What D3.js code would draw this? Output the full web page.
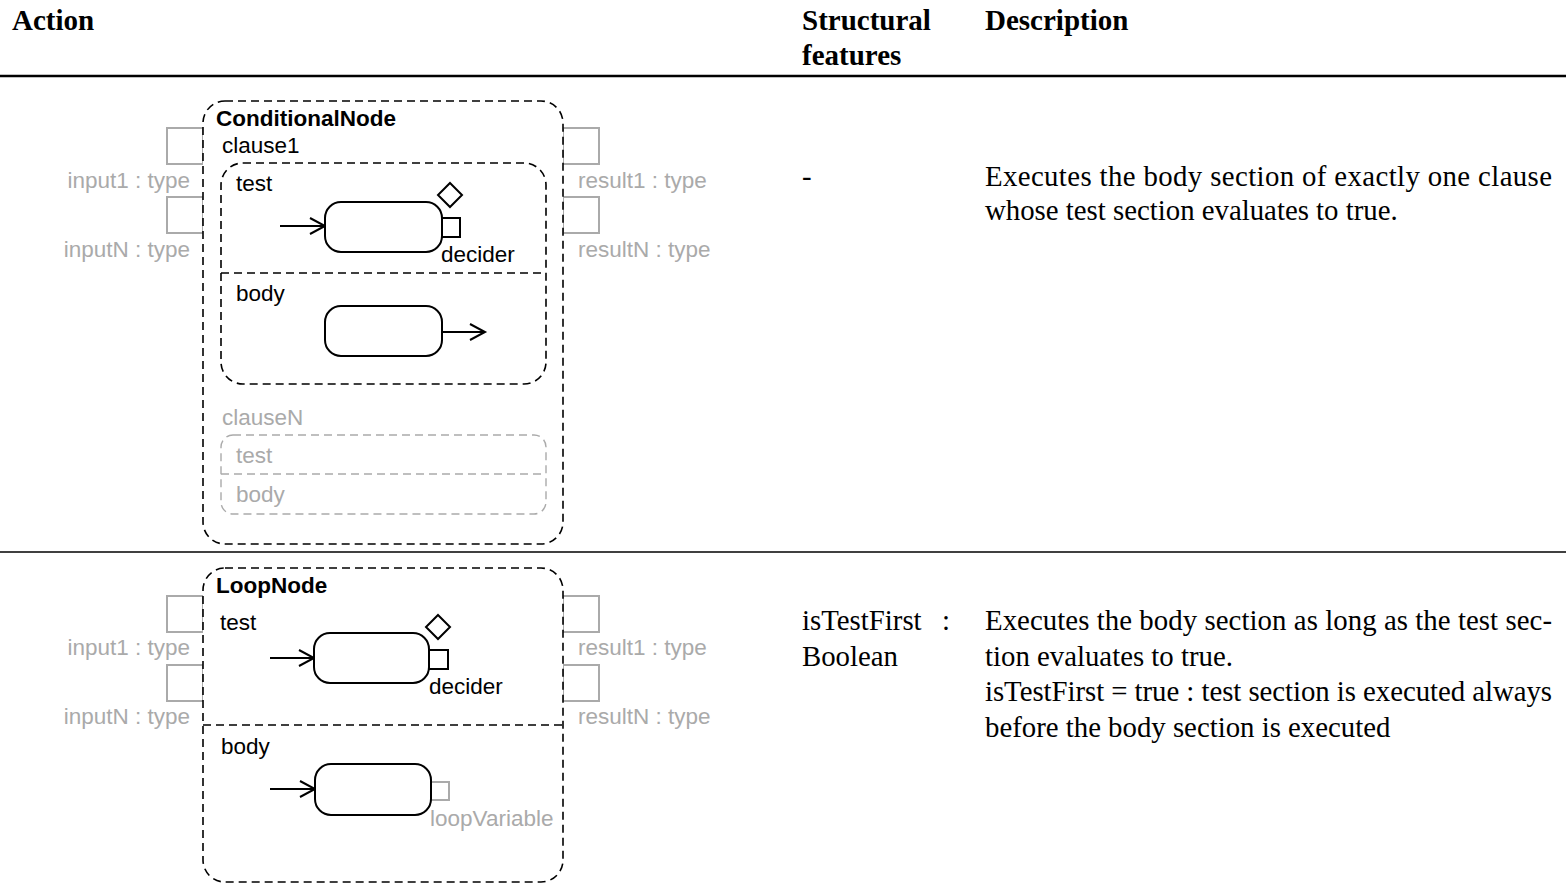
<!DOCTYPE html>
<html><head><meta charset="utf-8">
<script src="https://cdn.jsdelivr.net/npm/d3@7"></script>
<style>body{margin:0;background:#fff}svg{display:block}</style>
</head><body>
<script>
// ---- data ----
const headers = ["Action", "Structural", "features", "Description"];
const nodeNames = ["ConditionalNode", "LoopNode"];
const inputPins = ["input1 : type", "inputN : type"];
const outputPins = ["result1 : type", "resultN : type"];
const clauseLabels = ["clause1", "clauseN"];
const sectionLabels = ["test", "body"];
const pinLabels = ["decider", "loopVariable"];
const featureNames = [["-"], ["isTestFirst", "Boolean"]];
const descriptions = [
  ["Executes the body section of exactly one clause", "whose test section evaluates to true."],
  ["Executes the body section as long as the test sec-", "tion evaluates to true.",
   "isTestFirst = true : test section is executed always", "before the body section is executed"]
];
const justified = [[true, false], [true, false, true, false]];

const W = 1566, H = 891;
const GREY = "#aaaaaa";
const SANS = "'Liberation Sans', Arial, sans-serif";
const SERIF = "'Liberation Serif', 'Times New Roman', serif";
const SANS_SIZE = 22.5, SERIF_SIZE = 28.8;

const svg = d3.select("body").append("svg").attr("width", W).attr("height", H);

// column scale
const col = d3.scaleOrdinal().domain(["action", "features", "desc"]).range([12, 802, 985]);
const descRight = 1552;

// header
const hdr = svg.append("g").attr("font-family", SERIF).attr("font-weight", "bold").attr("font-size", 29);
hdr.append("text").attr("x", col("action")).attr("y", 30).text(headers[0]);
hdr.append("text").attr("x", col("features")).attr("y", 30).text(headers[1]);
hdr.append("text").attr("x", col("features")).attr("y", 65).text(headers[2]);
hdr.append("text").attr("x", col("desc")).attr("y", 30).text(headers[3]);
svg.append("line").attr("x1", 0).attr("x2", W).attr("y1", 76).attr("y2", 76).attr("stroke", "#000").attr("stroke-width", 2.5);
svg.append("line").attr("x1", 0).attr("x2", W).attr("y1", 552).attr("y2", 552).attr("stroke", "#000").attr("stroke-width", 1.5);

// helpers
function dashedBox(g, x, y, w, h, r, color, sw) {
  g.append("rect").attr("x", x).attr("y", y).attr("width", w).attr("height", h).attr("rx", r).attr("ry", r)
    .attr("fill", "none").attr("stroke", color).attr("stroke-width", sw).attr("stroke-dasharray", "8,5");
}
function dashedLine(g, x1, x2, y, color, sw) {
  g.append("line").attr("x1", x1).attr("x2", x2).attr("y1", y).attr("y2", y)
    .attr("stroke", color).attr("stroke-width", sw).attr("stroke-dasharray", "8,5");
}
function label(g, x, y, t, opts = {}) {
  return g.append("text").attr("x", x).attr("y", y).attr("font-family", SANS).attr("font-size", SANS_SIZE)
    .attr("fill", opts.color || "#000").attr("font-weight", opts.bold ? "bold" : "normal")
    .attr("text-anchor", opts.anchor || "start").text(t);
}
function action(g, x, y, w, h) {
  g.append("rect").attr("x", x).attr("y", y).attr("width", w).attr("height", h).attr("rx", 16).attr("ry", 16)
    .attr("fill", "#fff").attr("stroke", "#000").attr("stroke-width", 2);
}
function arrow(g, x1, x2, y) {
  g.append("line").attr("x1", x1).attr("x2", x2).attr("y1", y).attr("y2", y).attr("stroke", "#000").attr("stroke-width", 2);
  g.append("polyline").attr("points", `${x2 - 15},${y - 8} ${x2},${y} ${x2 - 15},${y + 8}`)
    .attr("fill", "none").attr("stroke", "#000").attr("stroke-width", 2);
}
function diamond(g, cx, cy, r) {
  g.append("polygon").attr("points", `${cx},${cy - r} ${cx + r},${cy} ${cx},${cy + r} ${cx - r},${cy}`)
    .attr("fill", "#fff").attr("stroke", "#000").attr("stroke-width", 2);
}
function pin(g, x, y, s, color, sw) {
  g.append("rect").attr("x", x).attr("y", y).attr("width", s).attr("height", s)
    .attr("fill", "#fff").attr("stroke", color).attr("stroke-width", sw);
}
function sidePins(g, boxL, boxR, tops, labelYs) {
  tops.forEach((t, i) => {
    pin(g, boxL - 36, t, 36, GREY, 2);
    pin(g, boxR, t, 36, GREY, 2);
    label(g, boxL - 13, labelYs[i], inputPins[i], {color: GREY, anchor: "end"});
    label(g, boxR + 15, labelYs[i], outputPins[i], {color: GREY});
  });
}

// ---- ConditionalNode ----
const c = svg.append("g");
sidePins(c, 203, 563, [128, 197], [188, 257]);
c.append("rect").attr("x", 203).attr("y", 101).attr("width", 360).attr("height", 443).attr("rx", 22).attr("fill", "#fff");
dashedBox(c, 203, 101, 360, 443, 22, "#000", 1.6);
label(c, 216, 126, nodeNames[0], {bold: true});
label(c, 222, 153, clauseLabels[0]);
dashedBox(c, 221, 163, 325, 221, 22, "#000", 1.6);
dashedLine(c, 221, 546, 273, "#000", 1.6);
label(c, 236, 191, sectionLabels[0]);
label(c, 236, 301, sectionLabels[1]);
arrow(c, 280, 325, 226);
pin(c, 441, 218, 19, "#000", 2);
action(c, 325, 202, 117, 50);
diamond(c, 450, 195, 12);
label(c, 441, 262, pinLabels[0]);
action(c, 325, 306, 117, 50);
arrow(c, 442, 485, 332);
label(c, 222, 425, clauseLabels[1], {color: GREY});
dashedBox(c, 221, 435, 325, 79, 12, GREY, 1.4);
dashedLine(c, 221, 546, 474, GREY, 1.4);
label(c, 236, 463, sectionLabels[0], {color: GREY});
label(c, 236, 502, sectionLabels[1], {color: GREY});

// ---- LoopNode ----
const l = svg.append("g");
sidePins(l, 203, 563, [596, 665], [655, 724]);
l.append("rect").attr("x", 203).attr("y", 568).attr("width", 360).attr("height", 314).attr("rx", 22).attr("fill", "#fff");
dashedBox(l, 203, 568, 360, 314, 22, "#000", 1.6);
dashedLine(l, 203, 563, 725, "#000", 1.6);
label(l, 216, 593, nodeNames[1], {bold: true});
label(l, 220, 630, sectionLabels[0]);
arrow(l, 270, 314, 658);
pin(l, 429, 650, 19, "#000", 2);
action(l, 314, 633, 115, 50);
diamond(l, 438, 627, 12);
label(l, 429, 694, pinLabels[0]);
label(l, 221, 754, sectionLabels[1]);
arrow(l, 270, 315, 789);
pin(l, 431, 782, 18, GREY, 2);
action(l, 315, 764, 116, 51);
label(l, 430, 826, pinLabels[1], {color: GREY});

// ---- features & descriptions ----
const tx = svg.append("g").attr("font-family", SERIF).attr("font-size", SERIF_SIZE).attr("fill", "#000");
const rowBase = [186, 630];
const lineGap = [34, 35.7];
tx.append("text").attr("x", col("features")).attr("y", rowBase[0]).text(featureNames[0][0]);
tx.append("text").attr("x", col("features")).attr("y", rowBase[1]).text(featureNames[1][0]);
tx.append("text").attr("x", 942).attr("y", rowBase[1]).text(":");
tx.append("text").attr("x", col("features")).attr("y", rowBase[1] + lineGap[1]).text(featureNames[1][1]);
descriptions.forEach((lines, r) => {
  lines.forEach((t, i) => {
    const el = tx.append("text").attr("x", col("desc")).attr("y", rowBase[r] + i * lineGap[r]).text(t);
    if (justified[r][i]) el.attr("textLength", descRight - col("desc")).attr("lengthAdjust", "spacing");
  });
});
</script>
</body></html>
